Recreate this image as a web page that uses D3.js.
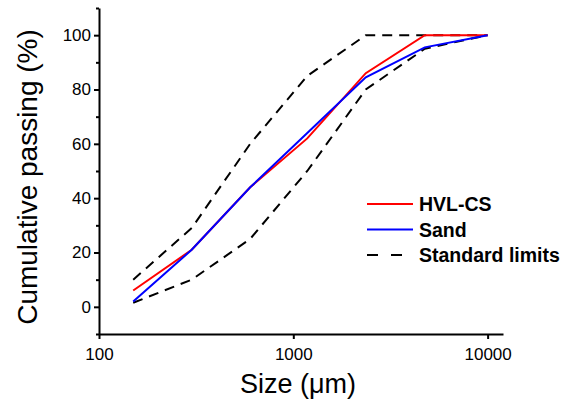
<!DOCTYPE html>
<html>
<head>
<meta charset="utf-8">
<script src="https://cdn.jsdelivr.net/npm/d3@7"></script>
<style>
  body { margin: 0; background: #fff; }
  text { font-family: "Liberation Sans", Arial, sans-serif; }
</style>
</head>
<body>
<div id="chart"></div>
<script>
// sieve sizes (µm) and cumulative passing (%)
var sizes = [150, 300, 600, 1180, 2360, 4750, 10000];
var hvlcs = [6, 21, 44, 62, 86, 100, 100];
var sand = [2, 21, 44, 64, 84.5, 95.5, 100];
var upperLimit = [10, 29, 60, 85, 100, 100, 100];
var lowerLimit = [1.5, 10, 25, 50, 80, 95, 100];
var xTicks = [100, 1000, 10000];
var yTicks = [0, 20, 40, 60, 80, 100];
var yMinor = [-10, 10, 30, 50, 70, 90, 110];

var W = 561, H = 403;
var margin = { left: 99, right: 58, top: 8, bottom: 69 };

var svg = d3.select("#chart")
            .append("svg")
            .attr("width", W)
            .attr("height", H);

var xScale = d3.scaleLog()
               .domain([100, 12000])
               .range([margin.left, W - margin.right]);

var yScale = d3.scaleLinear()
               .domain([-10, 110])
               .range([H - margin.bottom, margin.top]);

var line = d3.line()
             .x(function(d) { return xScale(d[0]); })
             .y(function(d) { return yScale(d[1]); });

function pts(vals) {
    return sizes.map(function(s, i) { return [s, vals[i]]; });
}

// Curvas
svg.append("path").datum(pts(upperLimit))
   .attr("d", line).attr("fill", "none")
   .attr("stroke", "#000").attr("stroke-width", 2)
   .attr("stroke-dasharray", "10,7");

svg.append("path").datum(pts(lowerLimit))
   .attr("d", line).attr("fill", "none")
   .attr("stroke", "#000").attr("stroke-width", 2)
   .attr("stroke-dasharray", "10,7");

svg.append("path").datum(pts(hvlcs))
   .attr("d", line).attr("fill", "none")
   .attr("stroke", "#ff0000").attr("stroke-width", 2);

svg.append("path").datum(pts(sand))
   .attr("d", line).attr("fill", "none")
   .attr("stroke", "#0000ff").attr("stroke-width", 2);

// Eixos
var xAxis = svg.append("g")
   .attr("transform", "translate(0," + (H - margin.bottom) + ")")
   .call(d3.axisBottom(xScale).tickValues(xTicks).tickFormat(d3.format("d"))
         .tickSize(5).tickPadding(9).tickSizeOuter(0));

var yAxis = svg.append("g")
   .attr("transform", "translate(" + margin.left + ",0)")
   .call(d3.axisLeft(yScale).tickValues(yTicks).tickSize(5).tickPadding(3).tickSizeOuter(0));

svg.append("g")
   .attr("transform", "translate(" + margin.left + ",0)")
   .call(d3.axisLeft(yScale).tickValues(yMinor).tickSize(3).tickFormat("").tickSizeOuter(0))
   .select(".domain").remove();

[xAxis, yAxis].forEach(function(g) {
    g.select(".domain").attr("stroke-width", 2);
    g.selectAll(".tick text").style("font-size", "17px").attr("fill", "#000");
});
svg.selectAll(".tick line").attr("stroke-width", 2);

// Rótulos
svg.append("text")
   .attr("x", 298)
   .attr("y", 393)
   .attr("text-anchor", "middle")
   .style("font-size", "27px")
   .text("Size (\u03bcm)");

svg.append("text")
   .attr("transform", "translate(37," + 177 + ") rotate(-90)")
   .attr("text-anchor", "middle")
   .style("font-size", "28px")
   .text("Cumulative passing (%)");

// Legenda
var legend = [
    { label: "HVL-CS", color: "#ff0000", dash: null },
    { label: "Sand", color: "#0000ff", dash: null },
    { label: "Standard limits", color: "#000", dash: "11,13" }
];

var lg = svg.append("g").attr("transform", "translate(367,204)");
legend.forEach(function(d, i) {
    lg.append("line")
      .attr("x1", 0).attr("x2", 46)
      .attr("y1", i * 25.5).attr("y2", i * 25.5)
      .attr("stroke", d.color).attr("stroke-width", 2)
      .attr("stroke-dasharray", d.dash);
    lg.append("text")
      .attr("x", 52).attr("y", i * 25.5 + 7)
      .style("font-size", "19.5px")
      .style("font-weight", "bold")
      .text(d.label);
});
</script>
</body>
</html>
